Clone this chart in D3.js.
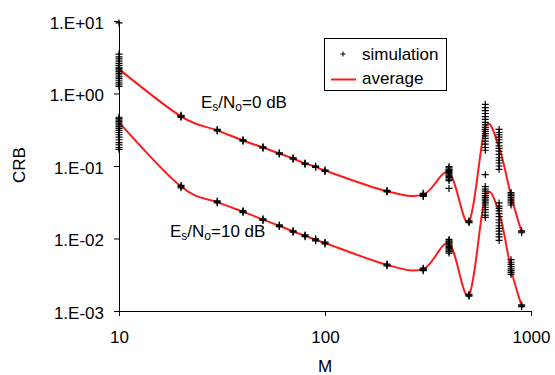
<!DOCTYPE html>
<html>
<head>
<meta charset="utf-8">
<script src="https://cdn.jsdelivr.net/npm/d3@7"></script>
<style>
  body { margin: 0; background: #fff; }
  svg { display: block; font-family: "Liberation Sans", Arial, sans-serif; }
</style>
</head>
<body>
<div id="app"></div>
<script>
// M values (x axis)
const M = [10, 20, 30, 40, 50, 60, 70, 80, 90, 100, 200, 300, 400, 500, 600, 700, 800, 900]

// average CRB, Es/No = 0 dB and 10 dB
const avg0dB = [2.17, 0.484, 0.31, 0.225, 0.18, 0.149, 0.127, 0.108, 0.0984, 0.0866, 0.0448, 0.0403, 0.0813, 0.0171, 0.341, 0.18, 0.039, 0.0124]
const avg10dB = [0.4, 0.052, 0.0317, 0.0235, 0.0182, 0.015, 0.0125, 0.0109, 0.0096, 0.00865, 0.00433, 0.00378, 0.00846, 0.00166, 0.0378, 0.0227, 0.00378, 0.00118]

// simulation runs, one list per M
const sim0dB = [
  [9.4, 3.5, 3.2, 3.0, 2.8, 2.6, 2.45, 2.3, 2.2, 2.1, 2.0, 1.9, 1.8, 1.7, 1.6, 1.5, 1.4, 1.32, 1.25],
  [0.5, 0.49, 0.48, 0.47],
  [0.32, 0.31, 0.305],
  [0.23, 0.225, 0.22],
  [0.184, 0.18, 0.176],
  [0.152, 0.149, 0.146],
  [0.13, 0.127, 0.124],
  [0.11, 0.108, 0.106],
  [0.1, 0.098, 0.096],
  [0.088, 0.086, 0.084],
  [0.046, 0.045, 0.044],
  [0.042, 0.041, 0.04, 0.039, 0.038],
  [0.098, 0.094, 0.09, 0.087, 0.084, 0.081, 0.078, 0.075, 0.072, 0.069, 0.066, 0.063, 0.049],
  [0.0175, 0.017, 0.0166],
  [0.71, 0.64, 0.58, 0.53, 0.48, 0.44, 0.4, 0.37, 0.34, 0.32, 0.3, 0.28, 0.26, 0.24, 0.22, 0.2, 0.18, 0.165, 0.076],
  [0.32, 0.29, 0.27, 0.25, 0.23, 0.21, 0.19, 0.175, 0.16, 0.145, 0.13, 0.12, 0.11, 0.1, 0.09],
  [0.043, 0.041, 0.039, 0.037, 0.035, 0.033, 0.031, 0.029],
  [0.0128, 0.0124, 0.012],
]
const sim10dB = [
  [0.47, 0.45, 0.43, 0.41, 0.39, 0.37, 0.35, 0.33, 0.31, 0.29, 0.27, 0.25, 0.23, 0.21, 0.195, 0.18, 0.17],
  [0.054, 0.052, 0.05],
  [0.033, 0.032, 0.031],
  [0.0242, 0.0235, 0.0228],
  [0.0187, 0.0182, 0.0177],
  [0.0154, 0.015, 0.0146],
  [0.0128, 0.0125, 0.0122],
  [0.0112, 0.0109, 0.0106],
  [0.0099, 0.0096, 0.0093],
  [0.0089, 0.00865, 0.0084],
  [0.00445, 0.00433, 0.0042],
  [0.0039, 0.0038, 0.0037, 0.0036],
  [0.0097, 0.0093, 0.009, 0.0087, 0.0084, 0.0081, 0.0078, 0.0075, 0.0072, 0.0069, 0.0066, 0.0063],
  [0.0017, 0.00165, 0.0016],
  [0.052, 0.048, 0.045, 0.042, 0.039, 0.037, 0.035, 0.033, 0.031, 0.029, 0.027, 0.025, 0.023, 0.021, 0.0195],
  [0.031, 0.028, 0.026, 0.024, 0.022, 0.02, 0.018, 0.0165, 0.015, 0.0138, 0.0126, 0.0115, 0.0105, 0.0094],
  [0.0051, 0.0047, 0.0044, 0.0041, 0.0038, 0.0036, 0.0034, 0.0032],
  [0.00122, 0.00118, 0.00115],
]

const xTicks = [10, 100, 1000]
const yTicks = [1e-3, 1e-2, 1e-1, 1e0, 1e1]
const yTickLabels = ['1.E-03', '1.E-02', '1.E-01', '1.E+00', '1.E+01']

const width = 555
const height = 375
const fontSize = 17

const svg = d3.select('#app').append('svg')
  .attr('width', width)
  .attr('height', height)

const x = d3.scaleLog().domain([10, 1000]).range([119, 531])
const y = d3.scaleLog().domain([1e-3, 1e1]).range([311, 21])

// axes
const xAxis = svg.append('g')
  .attr('transform', `translate(0,${y(1e-3)})`)
  .call(d3.axisBottom(x).tickValues(xTicks).tickFormat(d3.format('d'))
    .tickSize(5).tickSizeOuter(0).tickPadding(15))
const yAxis = svg.append('g')
  .attr('transform', `translate(${x(10)},0)`)
  .call(d3.axisLeft(y).tickValues(yTicks).tickFormat((d, i) => yTickLabels[i])
    .tickSize(5).tickSizeOuter(0).tickPadding(10))

for (const ax of [xAxis, yAxis]) {
  ax.attr('font-family', null).attr('font-size', null)
  ax.selectAll('text').attr('font-size', fontSize).attr('fill', '#000')
  ax.selectAll('line, path').attr('stroke', '#000')
}
yAxis.selectAll('text').attr('dy', '0.42em')

// axis titles
svg.append('text')
  .attr('x', 325).attr('y', 372)
  .attr('text-anchor', 'middle')
  .attr('font-size', fontSize)
  .text('M')
svg.append('text')
  .attr('transform', 'translate(25,165) rotate(-90)')
  .attr('text-anchor', 'middle')
  .attr('font-size', fontSize)
  .text('CRB')

// average curves
const line = d3.line()
  .x((d) => x(d[0]))
  .y((d) => y(d[1]))
  .curve(d3.curveCardinal.tension(0))

for (const avg of [avg0dB, avg10dB]) {
  svg.append('path')
    .datum(M.map((m, i) => [m, avg[i]]))
    .attr('d', line)
    .attr('fill', 'none')
    .attr('stroke', '#ff1a1a')
    .attr('stroke-width', 2)
}

// simulation markers
const plus = (cx, cy, r) => `M${cx - r},${cy}h${2 * r}M${cx},${cy - r}v${2 * r}`
const simPoints = []
for (const sim of [sim0dB, sim10dB]) {
  sim.forEach((vals, i) => vals.forEach((v) => simPoints.push([M[i], v])))
}
svg.append('g')
  .selectAll('path')
  .data(simPoints)
  .join('path')
  .attr('d', (d) => plus(x(d[0]), y(d[1]), 3.5))
  .attr('stroke', '#000')
  .attr('stroke-width', 1.2)
  .attr('fill', 'none')

// annotations with subscripts
function ratioLabel(px, py, rest) {
  const t = svg.append('text').attr('x', px).attr('y', py).attr('font-size', fontSize)
  t.append('tspan').text('E')
  t.append('tspan').attr('font-size', 12).attr('dy', 3).text('s')
  t.append('tspan').attr('dy', -3).text('/N')
  t.append('tspan').attr('font-size', 12).attr('dy', 3).text('o')
  t.append('tspan').attr('dy', -3).text(rest)
}
ratioLabel(201, 108, '=0 dB')
ratioLabel(170, 237, '=10 dB')

// legend
const legend = svg.append('g')
legend.append('rect')
  .attr('x', 324.5).attr('y', 38.5)
  .attr('width', 122).attr('height', 52)
  .attr('fill', '#fff')
  .attr('stroke', '#000')
legend.append('path')
  .attr('d', plus(343, 54, 2.5))
  .attr('stroke', '#000')
  .attr('fill', 'none')
legend.append('line')
  .attr('x1', 331).attr('x2', 356)
  .attr('y1', 79.5).attr('y2', 79.5)
  .attr('stroke', '#ff1a1a')
  .attr('stroke-width', 2)
legend.append('text').attr('x', 362).attr('y', 59.5).attr('font-size', fontSize).text('simulation')
legend.append('text').attr('x', 362).attr('y', 84).attr('font-size', fontSize).text('average')
</script>
</body>
</html>
